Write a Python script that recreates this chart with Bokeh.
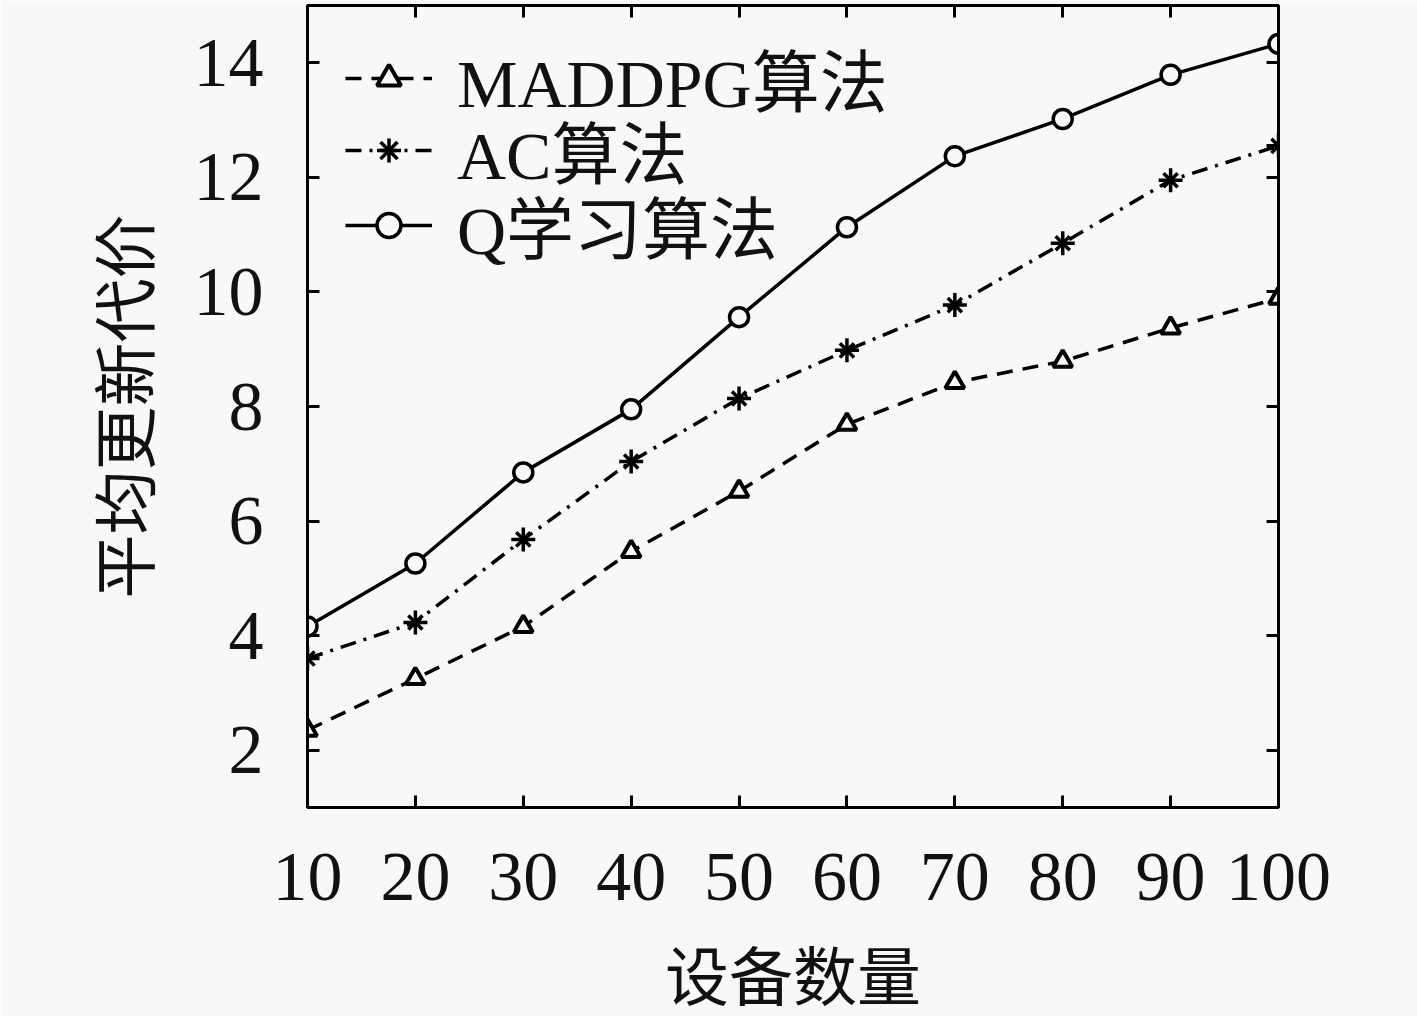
from bokeh.plotting import figure
from bokeh.models import Range1d, LinearAxis, FixedTicker, Legend, LegendItem
from bokeh.embed import file_html
from bokeh.resources import INLINE

devices = [10, 20, 30, 40, 50, 60, 70, 80, 90, 100]
maddpg = [2.35, 3.25, 4.16, 5.47, 6.52, 7.69, 8.42, 8.79, 9.37, 9.89]
ac = [3.60, 4.23, 5.68, 7.04, 8.14, 8.98, 9.77, 10.85, 11.95, 12.55]
qlearn = [4.16, 5.26, 6.85, 7.95, 9.56, 11.13, 12.37, 13.02, 13.79, 14.33]
x_ticks = [10, 20, 30, 40, 50, 60, 70, 80, 90, 100]
y_ticks = [2, 4, 6, 8, 10, 12, 14]
names = ["MADDPG算法", "AC算法", "Q学习算法"]
x_label = "设备数量"
y_label = "平均更新代价"

FONT = "Liberation Serif, Noto Sans CJK SC"
BG = "#f8f8f8"

p = figure(width=1417, height=1016, output_backend="svg", toolbar_location=None,
           x_range=Range1d(10, 100), y_range=Range1d(1, 15),
           min_border_left=307, min_border_right=139, min_border_top=5, min_border_bottom=209,
           background_fill_color=BG, border_fill_color=BG)
p.grid.visible = False
p.outline_line_color = "black"
p.outline_line_width = 3

def style_axis(ax, labels=True):
    ax.axis_line_width = 3
    ax.axis_line_color = "black"
    ax.major_tick_in = 12
    ax.major_tick_out = 0
    ax.major_tick_line_width = 3
    ax.minor_tick_line_color = None
    ax.major_label_text_font = FONT
    ax.major_label_text_font_size = "70px"
    ax.major_label_text_color = "#111111"
    if not labels:
        ax.major_label_text_font_size = "0px"
        ax.major_label_text_color = None

p.xaxis.ticker = FixedTicker(ticks=x_ticks)
p.yaxis.ticker = FixedTicker(ticks=y_ticks)
style_axis(p.xaxis[0])
style_axis(p.yaxis[0])
p.xaxis.major_label_standoff = 46
p.yaxis.major_label_standoff = 44
p.xaxis.axis_label = x_label
p.yaxis.axis_label = y_label
for ax in (p.xaxis[0], p.yaxis[0]):
    ax.axis_label_text_font = FONT
    ax.axis_label_text_font_size = "64px"
    ax.axis_label_text_font_style = "normal"
    ax.axis_label_text_color = "#111111"
p.xaxis.axis_label_standoff = 40
p.yaxis.axis_label_standoff = 28

top = LinearAxis(ticker=FixedTicker(ticks=x_ticks))
style_axis(top, labels=False)
p.add_layout(top, "above")
right = LinearAxis(ticker=FixedTicker(ticks=y_ticks))
style_axis(right, labels=False)
p.add_layout(right, "right")

lw = 3.5
l1 = p.line(devices, maddpg, line_color="black", line_width=lw, line_dash="16 10")
m1 = p.scatter(devices, maddpg, marker="triangle", size=19, fill_color=BG,
               line_color="black", line_width=4)
l2 = p.line(devices, ac, line_color="black", line_width=lw, line_dash="16 8 3 8")
m2a = p.scatter(devices, ac, marker="cross", size=24, line_color="black", line_width=3.5)
m2b = p.scatter(devices, ac, marker="x", size=20, line_color="black", line_width=3.5)
l3 = p.line(devices, qlearn, line_color="black", line_width=lw)
m3 = p.scatter(devices, qlearn, marker="circle", size=19, fill_color=BG,
               line_color="black", line_width=3.5)

items = [
    LegendItem(label=names[0], renderers=[l1, m1]),
    LegendItem(label=names[1], renderers=[l2, m2a, m2b]),
    LegendItem(label=names[2], renderers=[l3, m3]),
]
legend_y = [680, 608, 533]
for item, ly in zip(items, legend_y):
    lg = Legend(items=[item], location=(38, ly))
    lg.margin = 0
    lg.padding = 0
    lg.background_fill_alpha = 0
    lg.border_line_color = None
    lg.label_text_font = FONT
    lg.label_text_font_size = "68px"
    lg.label_text_color = "#111111"
    lg.glyph_width = 87
    lg.glyph_height = 60
    lg.label_height = 60
    lg.label_standoff = 25
    p.add_layout(lg)

open("out.html", "w").write(file_html(p, INLINE))
